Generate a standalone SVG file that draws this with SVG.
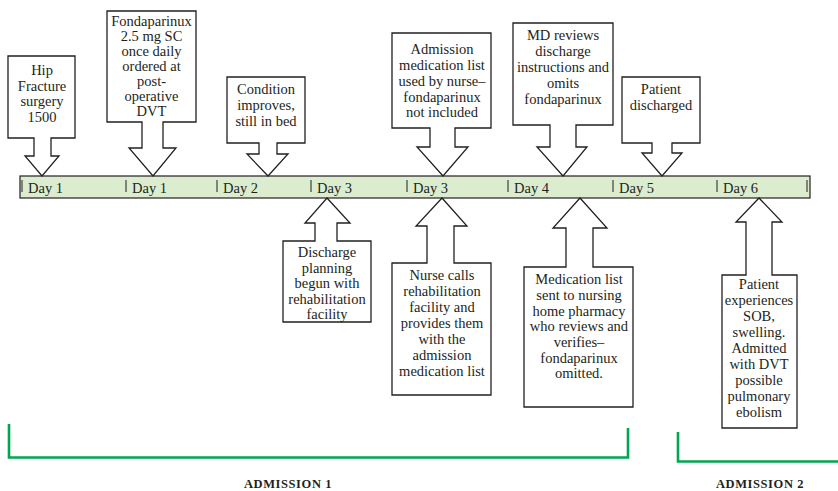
<svg xmlns="http://www.w3.org/2000/svg" width="838" height="491" viewBox="0 0 838 491">
<style>
.c{fill:#fff;stroke:#231f20;stroke-width:1.3;stroke-linejoin:miter}
.t,.d,.a{font-family:'Liberation Serif','DejaVu Serif','Noto Serif',serif;fill:#231f20}
.t{font-size:14.5px;text-anchor:middle}
.d{font-size:14.5px}
.tick{stroke:#231f20;stroke-width:1}
.br{fill:none;stroke:#00a651;stroke-width:2.6}
.a{font-size:12.5px;font-weight:bold;text-anchor:middle;letter-spacing:0.6px}
</style>
<rect width="838" height="491" fill="#fff"/>
<g id="timeline">
<rect x="20" y="176" width="790" height="22" fill="#dbeccf" stroke="#231f20" stroke-width="1.2"/>
<line class="tick" x1="22" y1="180" x2="22" y2="192"/>
<line class="tick" x1="126" y1="180" x2="126" y2="192"/>
<line class="tick" x1="217" y1="180" x2="217" y2="192"/>
<line class="tick" x1="311" y1="180" x2="311" y2="192"/>
<line class="tick" x1="407" y1="180" x2="407" y2="192"/>
<line class="tick" x1="508" y1="180" x2="508" y2="192"/>
<line class="tick" x1="613" y1="180" x2="613" y2="192"/>
<line class="tick" x1="717" y1="180" x2="717" y2="192"/>
<line class="tick" x1="807" y1="180" x2="807" y2="192"/>
<text class="d" x="28" y="193">Day 1</text>
<text class="d" x="132" y="193">Day 1</text>
<text class="d" x="223" y="193">Day 2</text>
<text class="d" x="317" y="193">Day 3</text>
<text class="d" x="413" y="193">Day 3</text>
<text class="d" x="514" y="193">Day 4</text>
<text class="d" x="619" y="193">Day 5</text>
<text class="d" x="723" y="193">Day 6</text>
</g>
<g id="hip">
<path class="c" d="M8,56H75V138H51V156H59L42,176L25,156H34V138H8Z"/>
<text class="t" x="42" y="75">Hip</text>
<text class="t" x="42" y="90.5">Fracture</text>
<text class="t" x="42" y="106">surgery</text>
<text class="t" x="42" y="121.5">1500</text>
</g>
<g id="fonda">
<path class="c" d="M107,11H196V122H163V148H176L153,176L129,148H142V122H107Z"/>
<text class="t" x="151.5" y="25.5">Fondaparinux</text>
<text class="t" x="151.5" y="40.5">2.5 mg SC</text>
<text class="t" x="151.5" y="55.5">once daily</text>
<text class="t" x="151.5" y="70.5">ordered at</text>
<text class="t" x="151.5" y="85.5">post-</text>
<text class="t" x="151.5" y="100.5">operative</text>
<text class="t" x="151.5" y="115.5">DVT</text>
</g>
<g id="condition">
<path class="c" d="M227,77H305V143H277V154H288L268,176L247,154H259V143H227Z"/>
<text class="t" x="266" y="94">Condition</text>
<text class="t" x="266" y="110">improves,</text>
<text class="t" x="266" y="126">still in bed</text>
</g>
<g id="admlist">
<path class="c" d="M392,33H491V128H455V147H468L443,176L417,147H430V128H392Z"/>
<text class="t" x="442" y="54">Admission</text>
<text class="t" x="442" y="69.5">medication list</text>
<text class="t" x="442" y="85.5">used by nurse–</text>
<text class="t" x="442" y="101.5">fondaparinux</text>
<text class="t" x="442" y="117">not included</text>
</g>
<g id="mdreview">
<path class="c" d="M513,23H613V125H576V147H587L563,176L537,147H550V125H513Z"/>
<text class="t" x="563" y="40">MD reviews</text>
<text class="t" x="563" y="56">discharge</text>
<text class="t" x="563" y="72">instructions and</text>
<text class="t" x="563" y="88">omits</text>
<text class="t" x="563" y="104">fondaparinux</text>
</g>
<g id="discharged">
<path class="c" d="M622,77H700V143H672V153H682L662,176L642,153H652V143H622Z"/>
<text class="t" x="661" y="94">Patient</text>
<text class="t" x="661" y="109.5">discharged</text>
</g>
<g id="planning">
<path class="c" d="M327,198L350,223H337V241H371V322H283V241H315V223H305Z"/>
<text class="t" x="327" y="257">Discharge</text>
<text class="t" x="327" y="272.5">planning</text>
<text class="t" x="327" y="288">begun with</text>
<text class="t" x="327" y="303.5">rehabilitation</text>
<text class="t" x="327" y="319">facility</text>
</g>
<g id="nursecalls">
<path class="c" d="M442,198L467,226H454V263H491V395H392V263H427V226H416Z"/>
<text class="t" x="442" y="280">Nurse calls</text>
<text class="t" x="442" y="296">rehabilitation</text>
<text class="t" x="442" y="312">facility and</text>
<text class="t" x="442" y="328">provides them</text>
<text class="t" x="442" y="344">with the</text>
<text class="t" x="442" y="360">admission</text>
<text class="t" x="442" y="376">medication list</text>
</g>
<g id="medlist">
<path class="c" d="M580,198L607,228H593V267H633V407H524V267H566V228H553Z"/>
<text class="t" x="579" y="284">Medication list</text>
<text class="t" x="579" y="300">sent to nursing</text>
<text class="t" x="579" y="315.5">home pharmacy</text>
<text class="t" x="579" y="331">who reviews and</text>
<text class="t" x="579" y="347">verifies–</text>
<text class="t" x="579" y="362.5">fondaparinux</text>
<text class="t" x="579" y="378">omitted.</text>
</g>
<g id="readmit">
<path class="c" d="M759,198L782,222H772V275H797V428H722V275H746V222H736Z"/>
<text class="t" x="759" y="289">Patient</text>
<text class="t" x="759" y="305">experiences</text>
<text class="t" x="759" y="321">SOB,</text>
<text class="t" x="759" y="337">swelling.</text>
<text class="t" x="759" y="353">Admitted</text>
<text class="t" x="759" y="369">with DVT</text>
<text class="t" x="759" y="385">possible</text>
<text class="t" x="759" y="401">pulmonary</text>
<text class="t" x="759" y="417">ebolism</text>
</g>
<g id="connectors">
<path class="br" d="M9,424V457.5H628V428"/>
<path class="br" d="M678,432V461.5H838"/>
</g>
<g id="labels">
<text class="a" x="288" y="487.5">ADMISSION 1</text>
<text class="a" x="760" y="487.5">ADMISSION 2</text>
</g>
</svg>
